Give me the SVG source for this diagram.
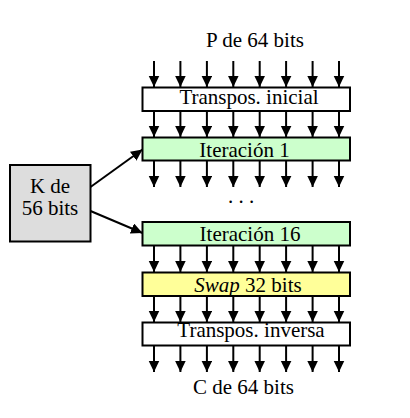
<svg xmlns="http://www.w3.org/2000/svg" width="410" height="418" viewBox="0 0 410 418">
<style>
  text { font-family: "Liberation Serif", "Times New Roman", serif; font-size: 21px; fill: #000; }
  .box { stroke: #000; stroke-width: 2; }
  .white { fill: #ffffff; }
  .green { fill: #ccffcc; }
  .yellow { fill: #ffff99; }
  .grey { fill: #dddddd; }
  .conn line { stroke: #000; stroke-width: 2; marker-end: url(#ah); }
</style>
<defs>
  <marker id="ah" markerUnits="userSpaceOnUse" markerWidth="13" markerHeight="12" refX="11.5" refY="5.5" orient="auto">
    <path d="M0,0 L11.5,5.5 L0,11 z" fill="#000"/>
  </marker>
</defs>
<rect width="410" height="418" fill="#ffffff"/>

<text x="255" y="47" text-anchor="middle">P de 64 bits</text>

<g id="transpos-inicial">
  <rect class="box white" x="142.5" y="87.5" width="207.5" height="23.5"/>
  <text x="249" y="103.5" text-anchor="middle">Transpos. inicial</text>
</g>
<g id="iteracion-1">
  <rect class="box green" x="142.5" y="137.5" width="207.5" height="23"/>
  <text x="244.5" y="157" text-anchor="middle">Iteración 1</text>
</g>
<text x="241" y="203" text-anchor="middle">. . .</text>
<g id="iteracion-16">
  <rect class="box green" x="142.5" y="222" width="207.5" height="23.5"/>
  <text x="250" y="241" text-anchor="middle">Iteración 16</text>
</g>
<g id="swap">
  <rect class="box yellow" x="142.5" y="272.5" width="207.5" height="23.5"/>
  <text x="248" y="292" text-anchor="middle"><tspan font-style="italic">Swap</tspan> 32 bits</text>
</g>
<g id="transpos-inversa">
  <rect class="box white" x="142.5" y="322.5" width="207.5" height="23"/>
  <text x="251" y="337" text-anchor="middle">Transpos. inversa</text>
</g>
<g id="clave">
  <rect class="box grey" x="10" y="165" width="80.5" height="76.5"/>
  <text x="50" y="192.5" text-anchor="middle">K de</text>
  <text x="50" y="215" text-anchor="middle">56 bits</text>
</g>
<text x="243.5" y="394" text-anchor="middle">C de 64 bits</text>

<g id="connectors" class="conn">
  <!-- input -->
  <line x1="154" y1="61" x2="154" y2="87"/>
  <line x1="180.4" y1="61" x2="180.4" y2="87"/>
  <line x1="206.9" y1="61" x2="206.9" y2="87"/>
  <line x1="233.3" y1="61" x2="233.3" y2="87"/>
  <line x1="259.7" y1="61" x2="259.7" y2="87"/>
  <line x1="286.1" y1="61" x2="286.1" y2="87"/>
  <line x1="312.6" y1="61" x2="312.6" y2="87"/>
  <line x1="339" y1="61" x2="339" y2="87"/>
  <!-- transpos -> iter1 -->
  <line x1="154" y1="111" x2="154" y2="137"/>
  <line x1="180.4" y1="111" x2="180.4" y2="137"/>
  <line x1="206.9" y1="111" x2="206.9" y2="137"/>
  <line x1="233.3" y1="111" x2="233.3" y2="137"/>
  <line x1="259.7" y1="111" x2="259.7" y2="137"/>
  <line x1="286.1" y1="111" x2="286.1" y2="137"/>
  <line x1="312.6" y1="111" x2="312.6" y2="137"/>
  <line x1="339" y1="111" x2="339" y2="137"/>
  <!-- iter1 out -->
  <line x1="154" y1="160.5" x2="154" y2="187"/>
  <line x1="180.4" y1="160.5" x2="180.4" y2="187"/>
  <line x1="206.9" y1="160.5" x2="206.9" y2="187"/>
  <line x1="233.3" y1="160.5" x2="233.3" y2="187"/>
  <line x1="259.7" y1="160.5" x2="259.7" y2="187"/>
  <line x1="286.1" y1="160.5" x2="286.1" y2="187"/>
  <line x1="312.6" y1="160.5" x2="312.6" y2="187"/>
  <line x1="339" y1="160.5" x2="339" y2="187"/>
  <!-- iter16 -> swap -->
  <line x1="154" y1="245.5" x2="154" y2="272"/>
  <line x1="180.4" y1="245.5" x2="180.4" y2="272"/>
  <line x1="206.9" y1="245.5" x2="206.9" y2="272"/>
  <line x1="233.3" y1="245.5" x2="233.3" y2="272"/>
  <line x1="259.7" y1="245.5" x2="259.7" y2="272"/>
  <line x1="286.1" y1="245.5" x2="286.1" y2="272"/>
  <line x1="312.6" y1="245.5" x2="312.6" y2="272"/>
  <line x1="339" y1="245.5" x2="339" y2="272"/>
  <!-- swap -> inversa -->
  <line x1="154" y1="296" x2="154" y2="322"/>
  <line x1="180.4" y1="296" x2="180.4" y2="322"/>
  <line x1="206.9" y1="296" x2="206.9" y2="322"/>
  <line x1="233.3" y1="296" x2="233.3" y2="322"/>
  <line x1="259.7" y1="296" x2="259.7" y2="322"/>
  <line x1="286.1" y1="296" x2="286.1" y2="322"/>
  <line x1="312.6" y1="296" x2="312.6" y2="322"/>
  <line x1="339" y1="296" x2="339" y2="322"/>
  <!-- output -->
  <line x1="154" y1="345.5" x2="154" y2="372"/>
  <line x1="180.4" y1="345.5" x2="180.4" y2="372"/>
  <line x1="206.9" y1="345.5" x2="206.9" y2="372"/>
  <line x1="233.3" y1="345.5" x2="233.3" y2="372"/>
  <line x1="259.7" y1="345.5" x2="259.7" y2="372"/>
  <line x1="286.1" y1="345.5" x2="286.1" y2="372"/>
  <line x1="312.6" y1="345.5" x2="312.6" y2="372"/>
  <line x1="339" y1="345.5" x2="339" y2="372"/>
  <!-- key -->
  <line x1="90.5" y1="187" x2="142.5" y2="149.5"/>
  <line x1="90.5" y1="211" x2="142.5" y2="233"/>
</g>
</svg>
